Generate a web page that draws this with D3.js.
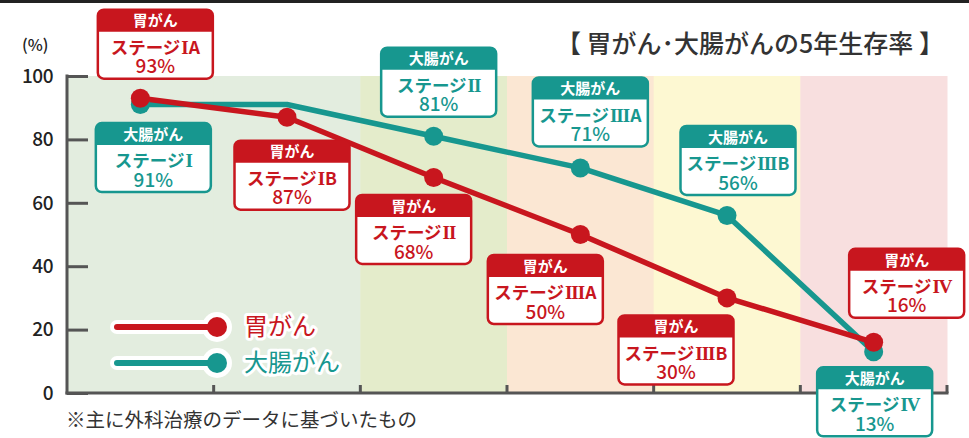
<!DOCTYPE html>
<html>
<head>
<meta charset="utf-8">
<script src="https://cdn.jsdelivr.net/npm/d3@7"></script>
<style>
  body { margin: 0; background: #fff; }
  svg { display: block; font-family: "Noto Sans CJK JP", "Noto Sans", sans-serif; }
</style>
</head>
<body>
<div id="chart"></div>
<script>
// stage columns (x axis)
const bands = ["IA", "IB", "II", "IIIA", "IIIB", "IV"];
// stomach cancer, 5-year survival (%)
const stomachValues = [93, 87, 68, 50, 30, 16];
const stomachStages = ["ステージⅠA", "ステージⅠB", "ステージⅡ", "ステージⅢA", "ステージⅢB", "ステージⅣ"];
// colorectal cancer; stage I spans the first two columns
const colonValues = [91, 91, 81, 71, 56, 13];
const colonStages = ["ステージⅠ", null, "ステージⅡ", "ステージⅢA", "ステージⅢB", "ステージⅣ"];
const yTicks = [0, 20, 40, 60, 80, 100];

class SurvivalChart {
  constructor(_config) {
    this.config = {
      parentElement: _config.parentElement,
      containerWidth: 969,
      containerHeight: 438,
      margin: { top: 76, right: 22, bottom: 45, left: 67 },
      red: "#c8161e",
      teal: "#17978f",
      bandColors: ["#e3eddf", "#e3eddf", "#e4eccb", "#fbe7d3", "#fdf8d2", "#f8dfdf"],
      boxW: 115,
      boxH: 69,
    };
    this.initVis();
  }

  initVis() {
    let vis = this;
    const c = vis.config;

    vis.svg = d3
      .select(c.parentElement)
      .append("svg")
      .attr("width", c.containerWidth)
      .attr("height", c.containerHeight);

    vis.width = c.containerWidth - c.margin.left - c.margin.right;
    vis.height = c.containerHeight - c.margin.top - c.margin.bottom;

    vis.xScale = d3
      .scaleBand()
      .domain(bands)
      .range([c.margin.left, c.margin.left + vis.width])
      .padding(0);

    vis.yScale = d3
      .scaleLinear()
      .domain([0, 100])
      .range([c.margin.top + vis.height, c.margin.top]);

    vis.xc = (i) => vis.xScale(bands[i]) + vis.xScale.bandwidth() / 2;

    // top frame line
    vis.svg.append("rect")
      .attr("x", 0).attr("y", 0)
      .attr("width", c.containerWidth).attr("height", 3)
      .attr("fill", "#222");

    vis.renderVis();
  }

  renderVis() {
    let vis = this;
    const c = vis.config;
    const y0 = vis.yScale(0);

    // background stage bands
    vis.svg.append("g")
      .selectAll("rect")
      .data(bands)
      .join("rect")
      .attr("x", (d) => vis.xScale(d))
      .attr("y", vis.yScale(100))
      .attr("width", vis.xScale.bandwidth() + 0.5)
      .attr("height", y0 - vis.yScale(100))
      .attr("fill", (d, i) => c.bandColors[i]);

    // y axis: ticks point inward
    const yAxis = d3.axisRight(vis.yScale)
      .tickValues(yTicks)
      .tickSize(21)
      .tickFormat("");
    const yAxisG = vis.svg.append("g")
      .attr("transform", `translate(${c.margin.left},0)`)
      .call(yAxis);
    yAxisG.select(".domain").remove();
    yAxisG.selectAll("line").attr("stroke", "#555").attr("stroke-width", 3);
    yAxisG.append("line")
      .attr("x1", 0).attr("x2", 0)
      .attr("y1", vis.yScale(100) - 1.5).attr("y2", y0 + 1.5)
      .attr("stroke", "#555").attr("stroke-width", 3);

    vis.svg.append("g")
      .selectAll("text")
      .data(yTicks)
      .join("text")
      .attr("x", 53)
      .attr("y", (d) => vis.yScale(d))
      .attr("dy", "0.36em")
      .attr("text-anchor", "end")
      .attr("font-size", 19)
      .attr("font-weight", 500)
      .attr("letter-spacing", -0.5)
      .attr("fill", "#222")
      .text((d) => d);

    vis.svg.append("text")
      .attr("x", 22).attr("y", 45).attr("dy", "0.35em")
      .attr("font-size", 16).attr("font-weight", 500).attr("fill", "#222")
      .text("(%)");

    // x axis: ticks at band edges pointing up
    const edges = bands.map((d) => vis.xScale(d)).concat([c.margin.left + vis.width]);
    const xAxisG = vis.svg.append("g");
    xAxisG.append("line")
      .attr("x1", c.margin.left - 1.5).attr("x2", c.margin.left + vis.width + 1.5)
      .attr("y1", y0).attr("y2", y0)
      .attr("stroke", "#555").attr("stroke-width", 3);
    xAxisG.selectAll(".xtick")
      .data(edges.slice(1))
      .join("line")
      .attr("class", "xtick")
      .attr("x1", (d) => d).attr("x2", (d) => d)
      .attr("y1", y0).attr("y2", y0 - 8)
      .attr("stroke", "#555").attr("stroke-width", 3);

    // title
    vis.svg.append("text")
      .attr("x", 944).attr("y", 44).attr("dy", "0.35em")
      .attr("text-anchor", "end")
      .attr("font-size", 25).attr("font-weight", 500).attr("fill", "#333")
      .text("【 胃がん･大腸がんの5年生存率 】");

    // footnote
    vis.svg.append("text")
      .attr("x", 66).attr("y", 420).attr("dy", "0.35em")
      .attr("font-size", 19.5).attr("fill", "#333")
      .text("※主に外科治療のデータに基づいたもの");

    // series lines
    const line = d3.line()
      .x((d, i) => vis.xc(i))
      .y((d) => vis.yScale(d));

    const series = [
      { name: "大腸がん", values: colonValues, stages: colonStages, color: c.teal },
      { name: "胃がん", values: stomachValues, stages: stomachStages, color: c.red },
    ];

    series.forEach((s) => {
      vis.svg.append("path")
        .datum(s.values)
        .attr("d", line)
        .attr("fill", "none")
        .attr("stroke", s.color)
        .attr("stroke-width", 5.5)
        .attr("stroke-linejoin", "round");
    });
    series.forEach((s) => {
      vis.svg.append("g")
        .selectAll("circle")
        .data(s.values.map((v, i) => ({ v, i, stage: s.stages[i] })).filter((d) => d.stage))
        .join("circle")
        .attr("cx", (d) => vis.xc(d.i))
        .attr("cy", (d) => vis.yScale(d.v))
        .attr("r", 9.5)
        .attr("fill", s.color);
    });

    // legend
    const legend = vis.svg.append("g");
    const legendItems = [
      { name: "胃がん", color: c.red, y: 327 },
      { name: "大腸がん", color: c.teal, y: 363 },
    ];
    legendItems.forEach((d) => {
      legend.append("line")
        .attr("x1", 117).attr("x2", 217).attr("y1", d.y).attr("y2", d.y)
        .attr("stroke", "#fff").attr("stroke-width", 14).attr("stroke-linecap", "round");
      legend.append("circle")
        .attr("cx", 217).attr("cy", d.y).attr("r", 15).attr("fill", "#fff");
    });
    legendItems.forEach((d) => {
      legend.append("line")
        .attr("x1", 117).attr("x2", 217).attr("y1", d.y).attr("y2", d.y)
        .attr("stroke", d.color).attr("stroke-width", 6).attr("stroke-linecap", "round");
      legend.append("circle")
        .attr("cx", 217).attr("cy", d.y).attr("r", 10).attr("fill", d.color);
      legend.append("text")
        .attr("x", 244).attr("y", d.y).attr("dy", "0.35em")
        .attr("font-size", 24)
        .attr("fill", d.color)
        .attr("stroke", "#fff").attr("stroke-width", 6)
        .attr("stroke-linejoin", "round")
        .attr("paint-order", "stroke")
        .text(d.name);
    });

    // callout boxes, offsets (box centre relative to point)
    const stomachOffsets = [[15, -54], [5, 58], [-20, 52], [-35, 55], [-51, 52], [33, -59]];
    const colonOffsets = [[13, 53], null, [5, -54], [10, -56], [11, -55], [1, 50]];

    const callouts = [];
    stomachValues.forEach((v, i) => callouts.push({ name: "胃がん", stage: stomachStages[i], v, i, off: stomachOffsets[i], color: c.red }));
    colonValues.forEach((v, i) => {
      if (colonStages[i]) callouts.push({ name: "大腸がん", stage: colonStages[i], v, i, off: colonOffsets[i], color: c.teal });
    });

    const boxes = vis.svg.append("g")
      .selectAll("g")
      .data(callouts)
      .join("g")
      .attr("transform", (d) => `translate(${vis.xc(d.i) + d.off[0] - c.boxW / 2},${vis.yScale(d.v) + d.off[1] - c.boxH / 2})`);

    boxes.append("rect")
      .attr("width", c.boxW).attr("height", c.boxH)
      .attr("rx", 6)
      .attr("fill", "#fff")
      .attr("stroke", (d) => d.color)
      .attr("stroke-width", 2.5);
    boxes.append("path")
      .attr("d", `M0,22 V6 Q0,0 6,0 H${c.boxW - 6} Q${c.boxW},0 ${c.boxW},6 V22 Z`)
      .attr("fill", (d) => d.color);
    boxes.append("text")
      .attr("x", c.boxW / 2).attr("y", 11.5).attr("dy", "0.35em")
      .attr("text-anchor", "middle")
      .attr("font-size", 15).attr("font-weight", 700).attr("fill", "#fff")
      .text((d) => d.name);

    // stage label: kana in sans, roman numeral in a serif face
    const romans = { "Ⅰ": "I", "Ⅱ": "II", "Ⅲ": "III", "Ⅳ": "IV" };
    const stageText = boxes.append("text")
      .attr("x", c.boxW / 2).attr("y", 38).attr("dy", "0.35em")
      .attr("text-anchor", "middle")
      .attr("font-size", 17.5).attr("font-weight", 700)
      .attr("fill", (d) => d.color);
    stageText.each(function (d) {
      const m = d.stage.match(/^(ステージ)([ⅠⅡⅢⅣ])(.*)$/);
      const t = d3.select(this);
      t.append("tspan").text(m[1]);
      t.append("tspan")
        .attr("font-family", "'Liberation Serif', 'DejaVu Serif', serif")
        .attr("font-size", 19)
        .attr("dx", 1)
        .attr("letter-spacing", -1)
        .text(romans[m[2]]);
      if (m[3]) t.append("tspan").attr("dx", 1).text(m[3]);
    });

    boxes.append("text")
      .attr("x", c.boxW / 2).attr("y", 57).attr("dy", "0.35em")
      .attr("text-anchor", "middle")
      .attr("font-size", 19).attr("font-weight", 500)
      .attr("fill", (d) => d.color)
      .text((d) => d.v + "%");
  }
}

new SurvivalChart({ parentElement: "#chart" });
</script>
</body>
</html>
